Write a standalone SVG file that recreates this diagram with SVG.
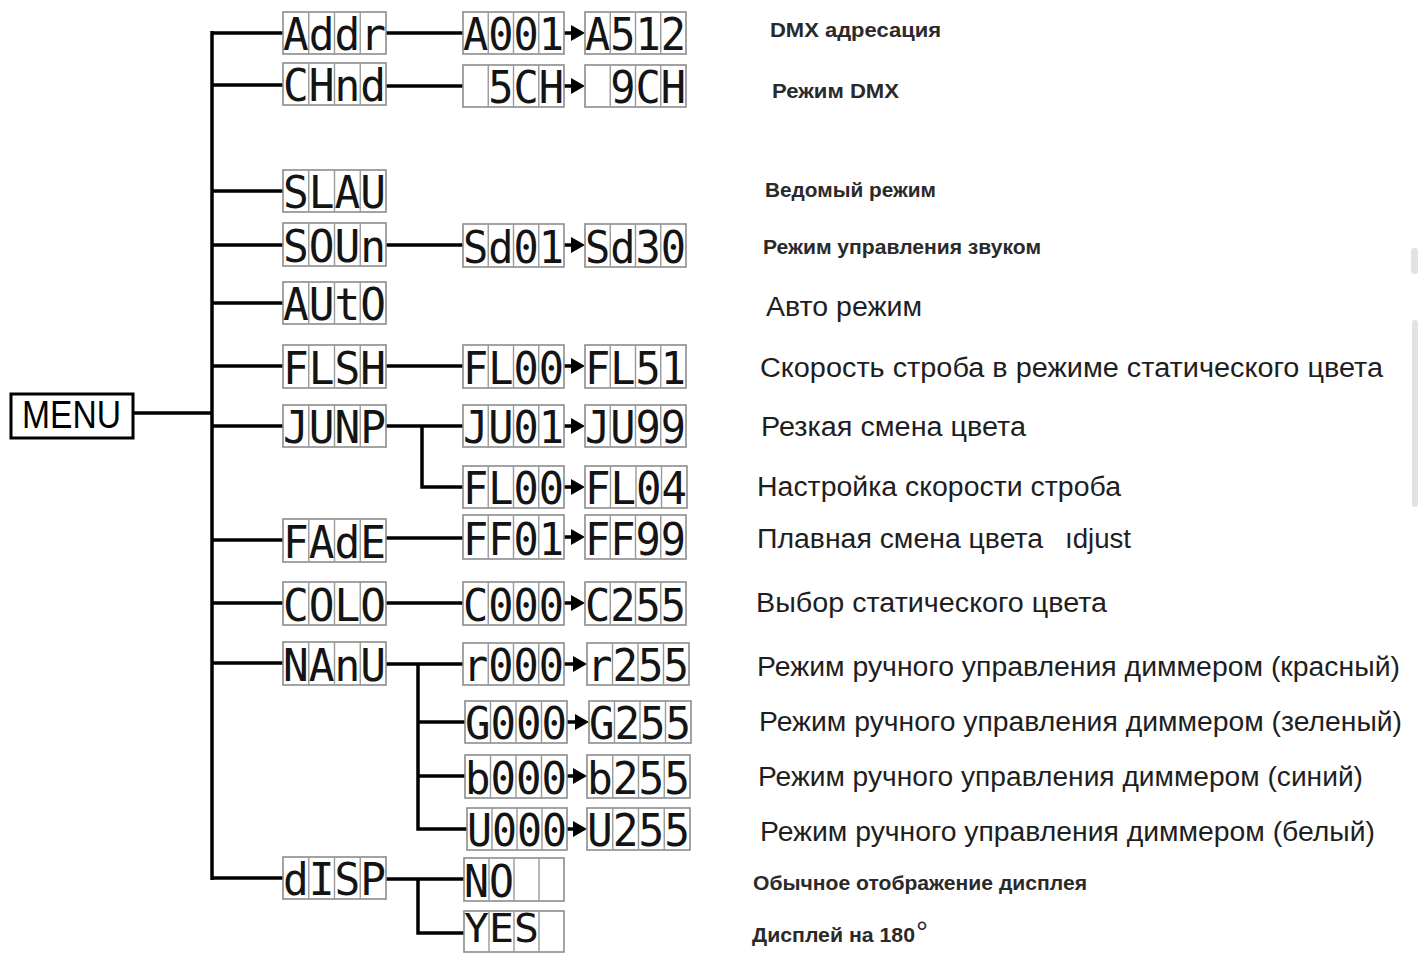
<svg xmlns="http://www.w3.org/2000/svg" width="1418" height="954" viewBox="0 0 1418 954">
<style>
.bg{fill:#fff}
.disp rect{fill:#fff;stroke:#8c8c8c;stroke-width:1.6}
.disp path{fill:none;stroke:#9a9a9a;stroke-width:1.4}
.disp text{font-family:"DejaVu Sans Mono","Liberation Mono",monospace;font-size:45px;fill:#141414}
.conn line,.conn path{stroke:#000;stroke-width:3.5;fill:none}
.conn polygon{fill:#000;stroke:none}
.lbl{font-family:"Liberation Sans",Arial,sans-serif;fill:#1e1e1e}
.sm{font-size:20px;font-weight:bold;fill:#2a2a2a}
.lg{font-size:27px}
.menu rect{fill:#fff;stroke:#000;stroke-width:3}
.menu text{font-family:"Liberation Sans",Arial,sans-serif;font-size:38px;fill:#000}
</style>
<rect class="bg" x="0" y="0" width="1418" height="954"/>
<rect x="1411" y="248" width="7" height="26" rx="3" fill="#e2e2e2"/>
<rect x="1412" y="320" width="6" height="187" rx="3" fill="#e2e2e2"/>

<g class="conn" id="connectors">
<line x1="212" y1="31" x2="212" y2="880"/>
<line x1="133" y1="413" x2="212" y2="413"/>
<line x1="212" y1="33" x2="283" y2="33"/>
<line x1="386" y1="33" x2="463" y2="33"/>
<line x1="212" y1="85" x2="283" y2="85"/>
<line x1="386" y1="86" x2="463" y2="86"/>
<line x1="212" y1="191" x2="283" y2="191"/>
<line x1="212" y1="245" x2="283" y2="245"/>
<line x1="386" y1="245" x2="463" y2="245"/>
<line x1="212" y1="303" x2="283" y2="303"/>
<line x1="212" y1="366" x2="283" y2="366"/>
<line x1="386" y1="366" x2="463" y2="366"/>
<line x1="212" y1="426" x2="283" y2="426"/>
<line x1="386" y1="426" x2="463" y2="426"/>
<path d="M422 426 V487 H463"/>
<line x1="212" y1="540" x2="283" y2="540"/>
<line x1="386" y1="538" x2="463" y2="538"/>
<line x1="212" y1="603" x2="283" y2="603"/>
<line x1="386" y1="603" x2="463" y2="603"/>
<line x1="212" y1="663" x2="283" y2="663"/>
<line x1="386" y1="664" x2="463" y2="664"/>
<path d="M418 664 V829 H467"/>
<line x1="418" y1="722" x2="465" y2="722"/>
<line x1="418" y1="776" x2="465" y2="776"/>
<line x1="212" y1="878" x2="283" y2="878"/>
<line x1="386" y1="879" x2="464" y2="879"/>
<path d="M418 879 V933 H464"/>
<line x1="564" y1="33" x2="574" y2="33"/><polygon points="585,33 571,25 571,41"/>
<line x1="564" y1="86" x2="574" y2="86"/><polygon points="585,86 571,78 571,94"/>
<line x1="564" y1="245" x2="574" y2="245"/><polygon points="585,245 571,237 571,253"/>
<line x1="564" y1="366" x2="574" y2="366"/><polygon points="585,366 571,358 571,374"/>
<line x1="564" y1="426" x2="574" y2="426"/><polygon points="585,426 571,418 571,434"/>
<line x1="564" y1="487" x2="574" y2="487"/><polygon points="585,487 571,479 571,495"/>
<line x1="564" y1="537" x2="574" y2="537"/><polygon points="585,537 571,529 571,545"/>
<line x1="564" y1="603" x2="574" y2="603"/><polygon points="585,603 571,595 571,611"/>
<line x1="564" y1="664" x2="576" y2="664"/><polygon points="587,664 573,656 573,672"/>
<line x1="567" y1="722" x2="578" y2="722"/><polygon points="589,722 575,714 575,730"/>
<line x1="567" y1="776" x2="576" y2="776"/><polygon points="587,776 573,768 573,784"/>
<line x1="567" y1="829" x2="576" y2="829"/><polygon points="587,829 573,821 573,837"/>
</g>

<g id="menu" class="menu"><rect x="11" y="394" width="122" height="44"/><text x="22" y="428" textLength="99" lengthAdjust="spacingAndGlyphs">MENU</text></g>

<g id="addr" class="disp"><rect x="283" y="12" width="103" height="42"/><path d="M308.75 12v42M334.5 12v42M360.25 12v42"/><text x="283" y="50" textLength="103" lengthAdjust="spacingAndGlyphs">Addr</text></g>
<g id="a001" class="disp"><rect x="463" y="12" width="101" height="42"/><path d="M488.25 12v42M513.5 12v42M538.75 12v42"/><text x="463" y="50" textLength="101" lengthAdjust="spacingAndGlyphs">A001</text></g>
<g id="a512" class="disp"><rect x="585" y="12" width="101" height="42"/><path d="M610.25 12v42M635.5 12v42M660.75 12v42"/><text x="585" y="50" textLength="101" lengthAdjust="spacingAndGlyphs">A512</text></g>

<g id="chnd" class="disp"><rect x="283" y="63" width="103" height="42"/><path d="M308.75 63v42M334.5 63v42M360.25 63v42"/><text x="283" y="101" textLength="103" lengthAdjust="spacingAndGlyphs">CHnd</text></g>
<g id="ch5" class="disp"><rect x="463" y="65" width="101" height="42"/><path d="M488.25 65v42M513.5 65v42M538.75 65v42"/><text x="463" y="103" textLength="101" lengthAdjust="spacingAndGlyphs">&#160;5CH</text></g>
<g id="ch9" class="disp"><rect x="585" y="65" width="101" height="42"/><path d="M610.25 65v42M635.5 65v42M660.75 65v42"/><text x="585" y="103" textLength="101" lengthAdjust="spacingAndGlyphs">&#160;9CH</text></g>

<g id="slau" class="disp"><rect x="283" y="170" width="103" height="42"/><path d="M308.75 170v42M334.5 170v42M360.25 170v42"/><text x="283" y="208" textLength="103" lengthAdjust="spacingAndGlyphs">SLAU</text></g>

<g id="soun" class="disp"><rect x="283" y="223" width="103" height="43"/><path d="M308.75 223v43M334.5 223v43M360.25 223v43"/><text x="283" y="262" textLength="103" lengthAdjust="spacingAndGlyphs">SOUn</text></g>
<g id="sd01" class="disp"><rect x="463" y="224" width="101" height="43"/><path d="M488.25 224v43M513.5 224v43M538.75 224v43"/><text x="463" y="263" textLength="101" lengthAdjust="spacingAndGlyphs">Sd01</text></g>
<g id="sd30" class="disp"><rect x="585" y="224" width="101" height="43"/><path d="M610.25 224v43M635.5 224v43M660.75 224v43"/><text x="585" y="263" textLength="101" lengthAdjust="spacingAndGlyphs">Sd30</text></g>

<g id="auto" class="disp"><rect x="283" y="282" width="103" height="42"/><path d="M308.75 282v42M334.5 282v42M360.25 282v42"/><text x="283" y="320" textLength="103" lengthAdjust="spacingAndGlyphs">AUtO</text></g>

<g id="flsh" class="disp"><rect x="283" y="345" width="103" height="43"/><path d="M308.75 345v43M334.5 345v43M360.25 345v43"/><text x="283" y="384" textLength="103" lengthAdjust="spacingAndGlyphs">FLSH</text></g>
<g id="fl00a" class="disp"><rect x="463" y="345" width="101" height="43"/><path d="M488.25 345v43M513.5 345v43M538.75 345v43"/><text x="463" y="384" textLength="101" lengthAdjust="spacingAndGlyphs">FL00</text></g>
<g id="fl51" class="disp"><rect x="585" y="345" width="101" height="43"/><path d="M610.25 345v43M635.5 345v43M660.75 345v43"/><text x="585" y="384" textLength="101" lengthAdjust="spacingAndGlyphs">FL51</text></g>

<g id="junp" class="disp"><rect x="283" y="405" width="103" height="42"/><path d="M308.75 405v42M334.5 405v42M360.25 405v42"/><text x="283" y="443" textLength="103" lengthAdjust="spacingAndGlyphs">JUNP</text></g>
<g id="ju01" class="disp"><rect x="463" y="405" width="101" height="42"/><path d="M488.25 405v42M513.5 405v42M538.75 405v42"/><text x="463" y="443" textLength="101" lengthAdjust="spacingAndGlyphs">JU01</text></g>
<g id="ju99" class="disp"><rect x="585" y="405" width="101" height="42"/><path d="M610.25 405v42M635.5 405v42M660.75 405v42"/><text x="585" y="443" textLength="101" lengthAdjust="spacingAndGlyphs">JU99</text></g>
<g id="fl00b" class="disp"><rect x="463" y="466" width="101" height="42"/><path d="M488.25 466v42M513.5 466v42M538.75 466v42"/><text x="463" y="504" textLength="101" lengthAdjust="spacingAndGlyphs">FL00</text></g>
<g id="fl04" class="disp"><rect x="585" y="466" width="102" height="42"/><path d="M610.5 466v42M636 466v42M661.5 466v42"/><text x="585" y="504" textLength="102" lengthAdjust="spacingAndGlyphs">FL04</text></g>

<g id="fade" class="disp"><rect x="283" y="519" width="103" height="43"/><path d="M308.75 519v43M334.5 519v43M360.25 519v43"/><text x="283" y="558" textLength="103" lengthAdjust="spacingAndGlyphs">FAdE</text></g>
<g id="ff01" class="disp"><rect x="463" y="515" width="101" height="44"/><path d="M488.25 515v44M513.5 515v44M538.75 515v44"/><text x="463" y="555" textLength="101" lengthAdjust="spacingAndGlyphs">FF01</text></g>
<g id="ff99" class="disp"><rect x="585" y="515" width="101" height="44"/><path d="M610.25 515v44M635.5 515v44M660.75 515v44"/><text x="585" y="555" textLength="101" lengthAdjust="spacingAndGlyphs">FF99</text></g>

<g id="colo" class="disp"><rect x="283" y="582" width="103" height="43"/><path d="M308.75 582v43M334.5 582v43M360.25 582v43"/><text x="283" y="621" textLength="103" lengthAdjust="spacingAndGlyphs">COLO</text></g>
<g id="c000" class="disp"><rect x="463" y="582" width="101" height="43"/><path d="M488.25 582v43M513.5 582v43M538.75 582v43"/><text x="463" y="621" textLength="101" lengthAdjust="spacingAndGlyphs">C000</text></g>
<g id="c255" class="disp"><rect x="585" y="582" width="101" height="43"/><path d="M610.25 582v43M635.5 582v43M660.75 582v43"/><text x="585" y="621" textLength="101" lengthAdjust="spacingAndGlyphs">C255</text></g>

<g id="nanu" class="disp"><rect x="283" y="642" width="103" height="43"/><path d="M308.75 642v43M334.5 642v43M360.25 642v43"/><text x="283" y="681" textLength="103" lengthAdjust="spacingAndGlyphs">NAnU</text></g>
<g id="r000" class="disp"><rect x="463" y="643" width="101" height="42"/><path d="M488.25 643v42M513.5 643v42M538.75 643v42"/><text x="463" y="681" textLength="101" lengthAdjust="spacingAndGlyphs">r000</text></g>
<g id="r255" class="disp"><rect x="587" y="643" width="102" height="42"/><path d="M612.5 643v42M638 643v42M663.5 643v42"/><text x="587" y="681" textLength="102" lengthAdjust="spacingAndGlyphs">r255</text></g>
<g id="g000" class="disp"><rect x="465" y="701" width="102" height="42"/><path d="M490.5 701v42M516 701v42M541.5 701v42"/><text x="465" y="739" textLength="102" lengthAdjust="spacingAndGlyphs">G000</text></g>
<g id="g255" class="disp"><rect x="589" y="701" width="102" height="42"/><path d="M614.5 701v42M640 701v42M665.5 701v42"/><text x="589" y="739" textLength="102" lengthAdjust="spacingAndGlyphs">G255</text></g>
<g id="b000" class="disp"><rect x="465" y="755" width="102" height="43"/><path d="M490.5 755v43M516 755v43M541.5 755v43"/><text x="465" y="794" textLength="102" lengthAdjust="spacingAndGlyphs">b000</text></g>
<g id="b255" class="disp"><rect x="587" y="755" width="103" height="43"/><path d="M612.75 755v43M638.5 755v43M664.25 755v43"/><text x="587" y="794" textLength="103" lengthAdjust="spacingAndGlyphs">b255</text></g>
<g id="u000" class="disp"><rect x="467" y="808" width="100" height="42"/><path d="M492 808v42M517 808v42M542 808v42"/><text x="467" y="846" textLength="100" lengthAdjust="spacingAndGlyphs">U000</text></g>
<g id="u255" class="disp"><rect x="587" y="808" width="103" height="42"/><path d="M612.75 808v42M638.5 808v42M664.25 808v42"/><text x="587" y="846" textLength="103" lengthAdjust="spacingAndGlyphs">U255</text></g>

<g id="disp" class="disp"><rect x="283" y="857" width="103" height="42"/><path d="M308.75 857v42M334.5 857v42M360.25 857v42"/><text x="283" y="895" textLength="103" lengthAdjust="spacingAndGlyphs">dISP</text></g>
<g id="no" class="disp"><rect x="464" y="858" width="100" height="43"/><path d="M489 858v43M514 858v43M539 858v43"/><text x="464" y="897" textLength="100" lengthAdjust="spacingAndGlyphs">NO&#160;&#160;</text></g>
<g id="yes" class="disp"><rect x="464" y="911" width="100" height="41"/><path d="M489 911v41M514 911v41M539 911v41"/><text x="464" y="942" style="font-size:39px" textLength="100" lengthAdjust="spacingAndGlyphs">YES&#160;</text></g>

<g id="labels">
<text class="lbl sm" x="770" y="37" textLength="171" lengthAdjust="spacingAndGlyphs">DMX адресация</text>
<text class="lbl sm" x="772" y="98" textLength="127" lengthAdjust="spacingAndGlyphs">Режим DMX</text>
<text class="lbl sm" x="765" y="197" textLength="171" lengthAdjust="spacingAndGlyphs">Ведомый режим</text>
<text class="lbl sm" x="763" y="254" textLength="278" lengthAdjust="spacingAndGlyphs">Режим управления звуком</text>
<text class="lbl lg" x="766" y="316" textLength="156" lengthAdjust="spacingAndGlyphs">Авто режим</text>
<text class="lbl lg" x="760" y="377" textLength="623" lengthAdjust="spacingAndGlyphs">Скорость строба в режиме статического цвета</text>
<text class="lbl lg" x="761" y="436" textLength="265" lengthAdjust="spacingAndGlyphs">Резкая смена цвета</text>
<text class="lbl lg" x="757" y="496" textLength="364" lengthAdjust="spacingAndGlyphs">Настройка скорости строба</text>
<text class="lbl lg" x="757" y="548" textLength="286" lengthAdjust="spacingAndGlyphs">Плавная смена цвета</text>
<text class="lbl lg" x="1065" y="548" textLength="66" lengthAdjust="spacingAndGlyphs">ıdjust</text>
<text class="lbl lg" x="756" y="612" textLength="351" lengthAdjust="spacingAndGlyphs">Выбор статического цвета</text>
<text class="lbl lg" x="757" y="676" textLength="643" lengthAdjust="spacingAndGlyphs">Режим ручного управления диммером (красный)</text>
<text class="lbl lg" x="759" y="731" textLength="643" lengthAdjust="spacingAndGlyphs">Режим ручного управления диммером (зеленый)</text>
<text class="lbl lg" x="758" y="786" textLength="605" lengthAdjust="spacingAndGlyphs">Режим ручного управления диммером (синий)</text>
<text class="lbl lg" x="760" y="841" textLength="615" lengthAdjust="spacingAndGlyphs">Режим ручного управления диммером (белый)</text>
<text class="lbl sm" x="753" y="890" textLength="334" lengthAdjust="spacingAndGlyphs">Обычное отображение дисплея</text>
<text class="lbl sm" x="752" y="942"><tspan textLength="163" lengthAdjust="spacingAndGlyphs">Дисплей на 180</tspan><tspan font-size="30" font-weight="normal" dx="1">°</tspan></text>
</g>
</svg>
